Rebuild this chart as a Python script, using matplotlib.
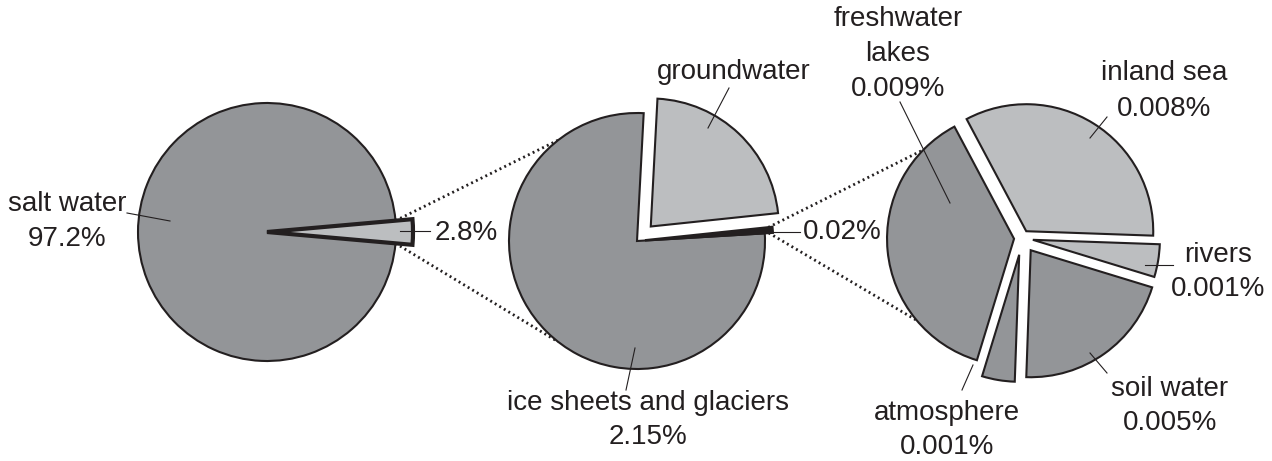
import matplotlib.pyplot as plt
import numpy as np

plt.rcParams['font.family'] = ['Liberation Sans', 'DejaVu Sans']

H = 461  # picture height in pixels, axes use pixel units with y going up

# first pie: all water on earth (%)
water_names = ["", "salt water"]
water_values = [2.8, 97.2]

# second pie: the 2.8 % fresh water
fresh_names = ["ice sheets and glaciers", "", "groundwater"]
fresh_values = [2.15, 0.02, 0.63]

# third pie: the 0.02 % rest
rest_names = ["inland sea", "freshwater\nlakes", "atmosphere", "soil water", "rivers"]
rest_values = [0.008, 0.009, 0.001, 0.005, 0.001]

dark = "#939598"
light = "#bcbec0"
ink = "#231f20"


def P(x, y):
    return x, H - y


fig = plt.figure(figsize=(12.72, 4.61), dpi=100)
ax = fig.add_axes([0, 0, 1, 1])
edge = dict(edgecolor=ink, linewidth=1.5)

# pie 1
w1, _ = ax.pie(water_values, colors=[light, dark], radius=129, center=P(267, 232),
               startangle=-water_values[0] * 3.6 / 2, wedgeprops=edge, frame=True)
w1[0].set_radius(146)
w1[0].set_linewidth(3)
w1[0].set_zorder(3)

# pie 2
w2, _ = ax.pie(fresh_values, colors=[dark, ink, light], radius=128, center=P(637, 241),
               startangle=87, explode=[0, 8, 20], wedgeprops=edge, frame=True)
w2[1].set_linewidth(1.8)

# pie 3
w3, _ = ax.pie(rest_values, colors=[light, dark, dark, dark, light], radius=127,
               center=P(1022, 238), startangle=-2, explode=[8, 8, 17, 15, 11],
               wedgeprops=edge, frame=True)


def on_circle(c, r, ang):
    a = np.radians(ang)
    return c[0] + r * np.cos(a), c[1] + r * np.sin(a)


dots = dict(color=ink, linestyle=(0, (0.7, 1.2)), linewidth=2.0, zorder=0)

# zoom lines pie 1 -> pie 2
s = w1[0]
c2 = P(637, 241)
for ang_s, ang_e in [(s.theta2, 128), (s.theta1, 232)]:
    p0 = on_circle(s.center, 129, ang_s)
    p1 = on_circle(c2, 128, ang_e)
    ax.plot([p0[0], p1[0]], [p0[1], p1[1]], **dots)

# zoom lines pie 2 -> pie 3
t = w2[1]
c3 = P(1022, 238)
for ang_s, ang_e in [(t.theta2, 131), (t.theta1, 228)]:
    p0 = on_circle(t.center, t.r - 4, ang_s)
    p1 = on_circle(c3, 127, ang_e)
    ax.plot([p0[0], p1[0]], [p0[1], p1[1]], **dots)

# labels: text, text position, alignment, leader line
labels = [
    (f"{water_names[1]}\n{water_values[1]}%", (67, 222), "center", [(127, 213), (170, 221)]),
    (f"{water_values[0]}%", (435, 233), "left", [(400, 231), (430, 231)]),
    (f"{fresh_names[0]}\n{fresh_values[0]}%", (648, 420), "center", [(635, 348), (626, 390)]),
    (fresh_names[2], (734, 72), "center", [(729, 88), (708, 128)]),
    (f"{fresh_values[1]}%", (803, 232), "left", [(765, 232), (800, 232)]),
    (f"{rest_names[1]}\n{rest_values[1]}%", (898, 54), "center", [(900, 102), (950, 203)]),
    (f"{rest_names[0]}\n{rest_values[0]}%", (1164, 91), "center", [(1107, 117), (1090, 138)]),
    (f"{rest_names[4]}\n{rest_values[4]}%", (1218, 272), "center", [(1173, 265), (1145, 265)]),
    (f"{rest_names[3]}\n{rest_values[3]}%", (1170, 406), "center", [(1107, 373), (1090, 353)]),
    (f"{rest_names[2]}\n{rest_values[2]}%", (947, 430), "center", [(962, 390), (973, 365)]),
]
for txt, pos, ha, lead in labels:
    ax.text(*P(*pos), txt, ha=ha, va="center", ma="center", fontsize=20,
            color=ink, linespacing=1.45)
    (x0, y0), (x1, y1) = P(*lead[0]), P(*lead[1])
    ax.plot([x0, x1], [y0, y1], color=ink, linewidth=0.8, zorder=5)

ax.set_xlim(0, 1272)
ax.set_ylim(0, H)
ax.axis("off")
fig.savefig("out.png", dpi=100)
